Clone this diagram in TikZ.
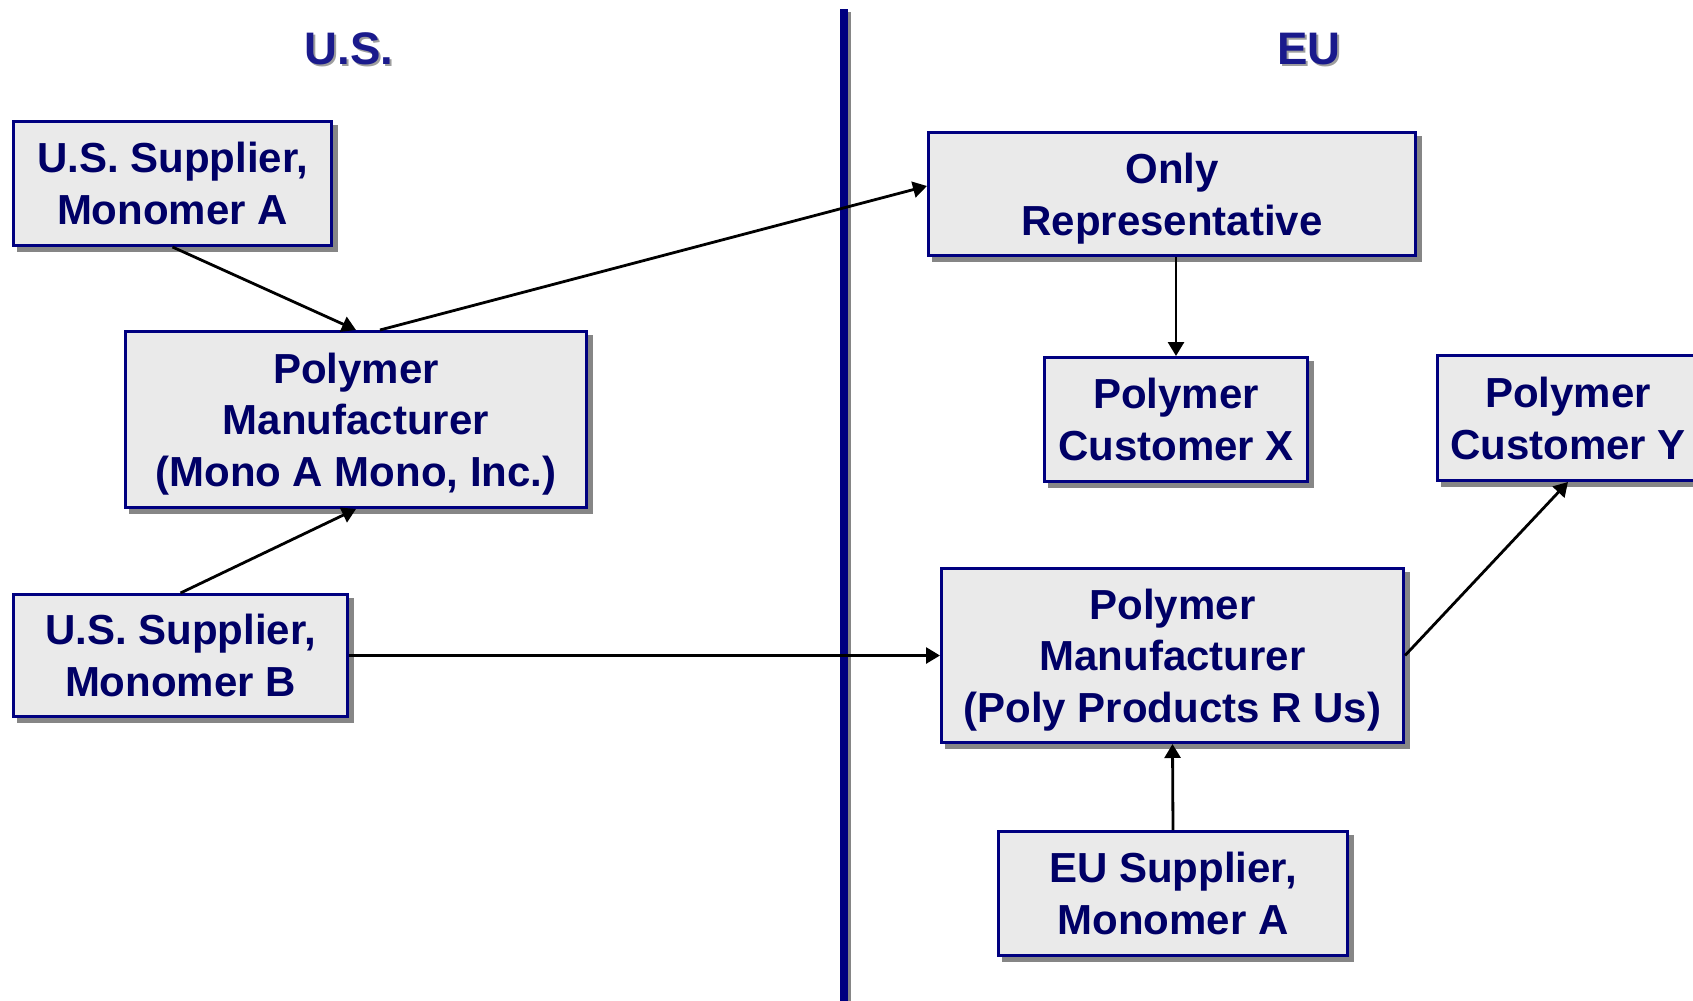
\documentclass[tikz,border=0pt]{standalone}
\usepackage{fontspec}
\setmainfont{Liberation Sans}
\usetikzlibrary{arrows.meta,shadows}
\definecolor{navyline}{HTML}{000080}
\definecolor{navytext}{HTML}{000066}
\definecolor{titleblue}{HTML}{1A1A8C}
\definecolor{boxfill}{HTML}{EAEAEA}
\definecolor{shadowgray}{HTML}{868686}
\begin{document}
\begin{tikzpicture}[x=0.5pt,y=-0.5pt,
  party/.style={draw=navyline, line width=1.5pt, fill=boxfill, text=navytext,
    font=\fontsize{21}{25.8}\selectfont\bfseries, align=center, inner sep=0pt,
    text depth=0pt,
    drop shadow={shadow xshift=2.6pt, shadow yshift=-2.6pt, fill=shadowgray,
      draw=shadowgray, line width=1.5pt, opacity=1}},
  flow/.style={-{Triangle[length=7pt,width=8pt]}, line width=1.4pt, black},
  region/.style={font=\fontsize{22.8}{27}\selectfont\bfseries},
]
\useasboundingbox (0,0) rectangle (1693,1001);

% region headings with their soft shadow
\node[region, text=shadowgray!80] at (351,51) {U.S.};
\node[region, text=titleblue] (us) at (349,49) {U.S.};
\node[region, text=shadowgray!80] at (1311,51) {EU};
\node[region, text=titleblue] (eu) at (1309,49) {EU};

% border between the two regions
\coordinate (divtop) at (844,9);
\coordinate (divbot) at (844,1001);
\draw[shadowgray, line width=4pt] ([xshift=1.5pt,yshift=-1.5pt]divtop) -- ([xshift=1.5pt]divbot);
\draw[navyline, line width=4pt] (divtop) -- (divbot);

% U.S. side
\node[party, minimum width=159pt, minimum height=62pt] (supA) at (172.5,183.5)
  {U.S. Supplier,\\Monomer A};
\node[party, minimum width=230.5pt, minimum height=88pt] (mono) at (356,419.5)
  {Polymer\\Manufacturer\\(Mono A Mono, Inc.)};
\node[party, minimum width=167pt, minimum height=61pt] (supB) at (180.5,655.5)
  {U.S. Supplier,\\Monomer B};

% EU side
\node[party, minimum width=243.5pt, minimum height=61.5pt] (orep) at (1172,194)
  {Only\\Representative};
\node[party, minimum width=131.5pt, minimum height=62pt] (custX) at (1176,419.5)
  {Polymer\\Customer X};
\node[party, minimum width=130.5pt, minimum height=62.5pt] (custY) at (1568,418)
  {Polymer\\Customer Y};
\node[party, minimum width=231pt, minimum height=87pt] (poly) at (1172.5,655.5)
  {Polymer\\Manufacturer\\(Poly Products R Us)};
\node[party, minimum width=174.5pt, minimum height=62pt] (euA) at (1173,893.5)
  {EU Supplier,\\Monomer A};

% flows
\draw[flow] (supA.south) -- (mono.north);
\draw[flow] (supB.north) -- (mono.south);
\draw[flow] ([xshift=12pt]mono.north) -- ([yshift=4pt]orep.west);
\draw[flow] (supB.east) -- (poly.west);
\draw[flow] (orep.south -| custX.north) -- (custX.north);
\draw[flow] (euA.north) -- (poly.south);
\draw[flow] (poly.east) -- (custY.south);
\end{tikzpicture}
\end{document}
